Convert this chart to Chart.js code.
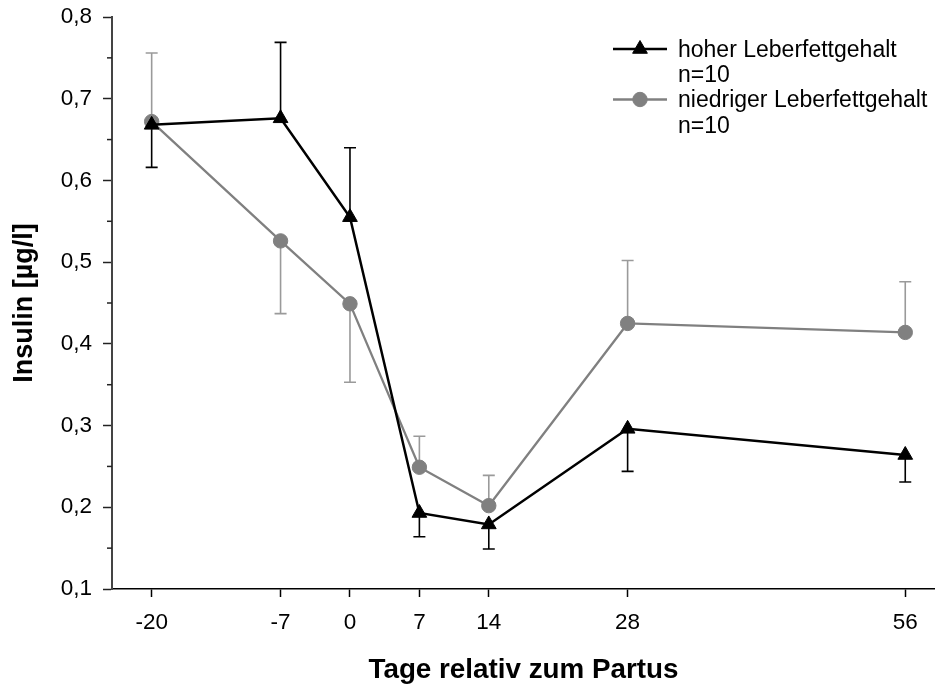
<!DOCTYPE html>
<html>
<head>
<meta charset="utf-8">
<script src="https://cdn.jsdelivr.net/npm/chart.js@4/dist/chart.umd.min.js"></script>
<style>
  html, body { margin: 0; padding: 0; background: #fff; }
  #wrap { width: 935px; height: 684px; position: relative; }
</style>
</head>
<body>
<div id="wrap"><canvas id="c" width="935" height="684"></canvas></div>
<script>
// Sampling days relative to calving
const days = [-20, -7, 0, 7, 14, 28, 56];

// Mean insulin (µg/l), high liver fat group, and end of its error whisker
const hohInsulin = [0.668, 0.676, 0.555, 0.193, 0.179, 0.296, 0.264];
const hohErrEnd  = [0.616, 0.769, 0.640, 0.164, 0.149, 0.244, 0.231];

// Mean insulin (µg/l), low liver fat group, and end of its error whisker
const niedInsulin = [0.672, 0.526, 0.449, 0.249, 0.202, 0.425, 0.414];
const niedErrEnd  = [0.756, 0.437, 0.353, 0.287, 0.239, 0.502, 0.476];

const seriesNames = ['hoher Leberfettgehalt', 'niedriger Leberfettgehalt'];
const groupSizes = ['n=10', 'n=10'];

const FONT = '"Liberation Sans", Arial, Helvetica, sans-serif';
const BLACK = '#000000';
const GREY = '#808080';
const GREY_ERR = '#9a9a9a';

// Vertical one-sided error whiskers with caps, drawn under the markers
const errorBars = {
  id: 'errorBars',
  beforeDatasetsDraw(chart) {
    const { ctx, scales: { x, y } } = chart;
    chart.data.datasets.forEach((ds) => {
      const ends = ds.errEnd;
      if (!ends) return;
      ctx.save();
      ctx.strokeStyle = ds.errColor;
      ctx.lineWidth = 1.6;
      ds.data.forEach((pt, i) => {
        const px = x.getPixelForValue(pt.x);
        const py = y.getPixelForValue(pt.y);
        const pe = y.getPixelForValue(ends[i]);
        ctx.beginPath();
        ctx.moveTo(px, py);
        ctx.lineTo(px, pe);
        ctx.moveTo(px - 6, pe);
        ctx.lineTo(px + 6, pe);
        ctx.stroke();
      });
      ctx.restore();
    });
  }
};

// Short minor ticks halfway between the labelled y ticks
const minorTicks = {
  id: 'minorTicks',
  afterDraw(chart) {
    const { ctx, scales: { y }, chartArea } = chart;
    const t = y.ticks.map(k => k.value);
    ctx.save();
    ctx.strokeStyle = '#222';
    ctx.lineWidth = 1.5;
    for (let i = 0; i < t.length - 1; i++) {
      const py = y.getPixelForValue((t[i] + t[i + 1]) / 2);
      ctx.beginPath();
      ctx.moveTo(chartArea.left - 5, py);
      ctx.lineTo(chartArea.left, py);
      ctx.stroke();
    }
    ctx.restore();
  }
};

// Two-line legend entries in the upper right corner
const cornerLegend = {
  id: 'cornerLegend',
  afterDraw(chart) {
    const { ctx, chartArea } = chart;
    const x0 = chartArea.right - 322;
    const rows = [49, 99.5];
    ctx.save();
    ctx.font = '23px ' + FONT;
    ctx.textBaseline = 'alphabetic';
    ctx.fillStyle = '#000';
    chart.data.datasets.forEach((ds, i) => {
      const yy = rows[i];
      ctx.strokeStyle = ds.borderColor;
      ctx.lineWidth = ds.borderWidth;
      ctx.beginPath();
      ctx.moveTo(x0, yy);
      ctx.lineTo(x0 + 54, yy);
      ctx.stroke();
      ctx.fillStyle = ds.pointBackgroundColor;
      ctx.strokeStyle = ds.pointBorderColor;
      ctx.lineWidth = 1;
      Chart.helpers.drawPoint(ctx, {
        pointStyle: ds.pointStyle,
        radius: ds.pointRadius,
        borderWidth: 1,
        rotation: 0
      }, x0 + 27, yy);
      ctx.fillStyle = '#000';
      ctx.fillText(seriesNames[i], x0 + 65, yy + 7.7);
      ctx.fillText(groupSizes[i], x0 + 65, yy + 33.3);
    });
    ctx.restore();
  }
};

const toPoints = (vals) => vals.map((v, i) => ({ x: days[i], y: v }));

new Chart(document.getElementById('c'), {
  type: 'line',
  data: {
    datasets: [
      {
        label: seriesNames[0],
        data: toPoints(hohInsulin),
        errEnd: hohErrEnd,
        errColor: BLACK,
        borderColor: BLACK,
        borderWidth: 2.5,
        pointStyle: 'triangle',
        pointRadius: 8.5,
        pointHoverRadius: 8.5,
        pointBackgroundColor: BLACK,
        pointBorderColor: BLACK,
        pointBorderWidth: 1,
        tension: 0,
        fill: false
      },
      {
        label: seriesNames[1],
        data: toPoints(niedInsulin),
        errEnd: niedErrEnd,
        errColor: GREY_ERR,
        borderColor: GREY,
        borderWidth: 2.3,
        pointStyle: 'circle',
        pointRadius: 7.2,
        pointHoverRadius: 7.2,
        pointBackgroundColor: GREY,
        pointBorderColor: GREY,
        pointBorderWidth: 1,
        tension: 0,
        fill: false
      }
    ]
  },
  options: {
    responsive: false,
    animation: false,
    devicePixelRatio: 1,
    layout: { autoPadding: false, padding: { top: 17, right: 0, bottom: 0, left: 0 } },
    plugins: {
      legend: { display: false },
      tooltip: { enabled: false }
    },
    scales: {
      x: {
        type: 'linear',
        min: -24,
        max: 59,
        afterBuildTicks: (s) => { s.ticks = days.map(v => ({ value: v })); },
        afterFit: (s) => {
          s.height = 95;
          s.paddingLeft = 0; s.paddingRight = 0;
        },
        ticks: {
          color: '#000',
          font: { family: FONT, size: 22.5 },
          padding: 12,
          maxRotation: 0,
          autoSkip: false,
          callback: (v) => String(v)
        },
        grid: {
          drawOnChartArea: false,
          drawTicks: true,
          tickLength: 8,
          tickColor: '#000',
          tickWidth: 1.5
        },
        border: { display: true, color: '#000', width: 1.5 },
        title: {
          display: true,
          text: 'Tage relativ zum Partus',
          color: '#000',
          font: { family: FONT, size: 27.8, weight: 'bold', lineHeight: 1 },
          padding: { top: 0, bottom: 0 }
        }
      },
      y: {
        type: 'linear',
        min: 0.1,
        max: 0.8,
        afterFit: (s) => {
          s.width = 112;
          s.paddingTop = 0; s.paddingBottom = 0;
        },
        ticks: {
          stepSize: 0.1,
          color: '#000',
          font: { family: FONT, size: 22.5 },
          padding: 11,
          callback: (v) => v.toFixed(1).replace('.', ',')
        },
        grid: {
          drawOnChartArea: false,
          drawTicks: true,
          tickLength: 9,
          tickColor: '#222',
          tickWidth: 1.5
        },
        border: { display: true, color: '#444', width: 2 },
        title: {
          display: true,
          text: 'Insulin [µg/l]',
          color: '#000',
          font: { family: FONT, size: 27, weight: 'bold' },
          padding: { top: 8, bottom: 0 }
        }
      }
    }
  },
  plugins: [errorBars, minorTicks, cornerLegend]
});
</script>
</body>
</html>
